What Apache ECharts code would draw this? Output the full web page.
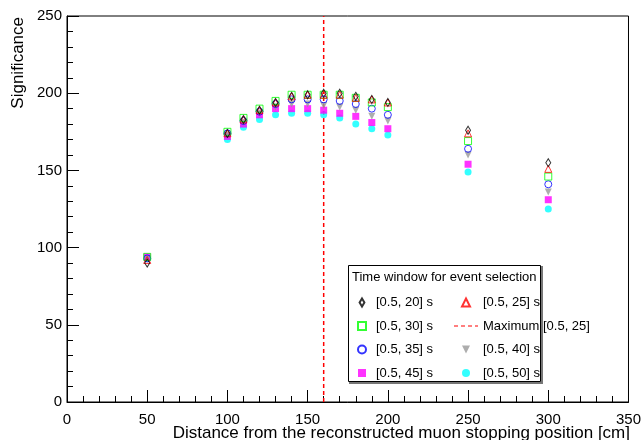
<!DOCTYPE html>
<html>
<head>
<meta charset="utf-8">
<script src="https://cdn.jsdelivr.net/npm/echarts@6/dist/echarts.min.js"></script>
<style>
  html, body { margin: 0; padding: 0; background: #fff; }
  #chart { width: 644px; height: 440px; }
</style>
</head>
<body>
<div id="chart"></div>
<script>
// Distance from the reconstructed muon stopping position [cm]
const distances = [50, 100, 110, 120, 130, 140, 150, 160, 170, 180, 190, 200, 250, 300];

// Significance for each time window
const sig20 = [90, 174, 183, 189, 194, 198, 199, 200, 200, 198, 196, 194, 176, 155];
const sig25 = [92, 174, 183, 189, 194, 198, 199, 199, 199, 197, 196, 194, 174, 151];
const sig30 = [94, 175, 184, 190, 195, 199, 199, 199, 199, 197, 194, 191, 169, 146];
const sig35 = [93, 174, 182, 188, 193, 196, 196, 196, 195, 193, 190, 186, 164, 141];
const sig40 = [93, 173, 181, 187, 191, 193, 193, 192, 191, 189, 185, 182, 160, 136];
const sig45 = [94, 172, 180, 186, 190, 190, 190, 189, 187, 185, 181, 177, 154, 131];
const sig50 = [93, 170, 178, 183, 186, 187, 187, 186, 184, 180, 177, 173, 149, 125];

// Position of the maximum for the [0.5, 25] s window
const maxDistance = 160;

const xTicks = { min: 0, max: 350, step: 50 };
const yTicks = { min: 0, max: 250, step: 50 };

const legendTitle = 'Time window for event selection';
const xTitle = 'Distance from the reconstructed muon stopping position [cm]';
const yTitle = 'Significance';

const FONT = '"Liberation Sans", Arial, Helvetica, sans-serif';

// Legend icons as paths so that they keep their aspect ratio
const ICON = {
  diamond: 'path://M3,0L6,5L3,10L0,5Z',
  rect: 'path://M0,0H10V10H0Z',
  circle: 'path://M0,5A5,5 0 1,0 10,5A5,5 0 1,0 0,5Z',
  triangle: 'path://M5,0L10,10L0,10Z',
  triangleDown: 'path://M0,0L10,0L5,10Z',
  dashes: 'path://M0,0H4V1H0ZM7,0H11V1H7ZM14,0H18V1H14ZM21,0H24V1H21Z'
};

function pts(vals) { return distances.map((d, i) => [d, vals[i]]); }

function openSeries(name, vals, symbol, color, size, rotate) {
  return {
    type: 'scatter', name, data: pts(vals), symbol, symbolSize: size,
    symbolRotate: rotate || 0,
    itemStyle: { color: 'rgba(255,255,255,0)', borderColor: color, borderWidth: 1 },
    emphasis: { disabled: true }, z: 3
  };
}
function filledSeries(name, vals, symbol, color, size, rotate) {
  return {
    type: 'scatter', name, data: pts(vals), symbol, symbolSize: size,
    symbolRotate: rotate || 0,
    itemStyle: { color: color, borderWidth: 0 },
    emphasis: { disabled: true }, z: 2
  };
}

const series = [
  filledSeries('[0.5, 50] s', sig50, 'circle', '#00ffff', 7),
  filledSeries('[0.5, 45] s', sig45, 'rect', '#ff00ff', 7),
  filledSeries('[0.5, 40] s', sig40, 'triangle', '#999999', 7, 180),
  openSeries('[0.5, 35] s', sig35, 'circle', '#0000ff', 7),
  openSeries('[0.5, 30] s', sig30, 'rect', '#00ff00', 7),
  openSeries('[0.5, 25] s', sig25, 'triangle', '#ff0000', 7),
  openSeries('[0.5, 20] s', sig20, 'diamond', '#000000', [5, 8]),
  {
    type: 'line', name: 'Maximum [0.5, 25]',
    data: [[maxDistance, yTicks.min], [maxDistance, yTicks.max]],
    symbol: 'none', color: '#ff0000',
    lineStyle: { color: '#ff0000', width: 1.5, type: [4, 3] },
    emphasis: { disabled: true }, z: 1, silent: true
  }
];

const legendCommon = {
  orient: 'vertical', itemHeight: 8, itemGap: 10.5,
  symbolRotate: 0, symbolKeepAspect: true,
  textStyle: { fontFamily: FONT, fontSize: 13, color: '#000' },
  selectedMode: false, padding: 0
};

const chart = echarts.init(document.getElementById('chart'), null, { renderer: 'canvas' });
chart.setOption({
  animation: false,
  backgroundColor: '#fff',
  grid: { left: 67, top: 16, width: 565, height: 386, show: true, borderColor: '#000', borderWidth: 1 },
  xAxis: {
    type: 'value', min: xTicks.min, max: xTicks.max, interval: xTicks.step,
    axisLine: { show: true, onZero: false, lineStyle: { color: '#000', width: 1 } },
    axisTick: { show: true, inside: true, length: 12, lineStyle: { color: '#000' } },
    minorTick: { show: true, splitNumber: 5, length: 6, lineStyle: { color: '#000' } },
    axisLabel: { fontFamily: FONT, fontSize: 15, color: '#000', margin: 10 },
    splitLine: { show: false }
  },
  yAxis: {
    type: 'value', min: yTicks.min, max: yTicks.max, interval: yTicks.step,
    axisLine: { show: true, onZero: false, lineStyle: { color: '#000', width: 1 } },
    axisTick: { show: true, inside: true, length: 12, lineStyle: { color: '#000' } },
    minorTick: { show: true, splitNumber: 5, length: 6, lineStyle: { color: '#000' } },
    axisLabel: { fontFamily: FONT, fontSize: 15, color: '#000', margin: 5 },
    splitLine: { show: false }
  },
  legend: [
    Object.assign({}, legendCommon, {
      left: 357, top: 296, itemWidth: 18,
      data: [
        { name: '[0.5, 20] s', icon: ICON.diamond },
        { name: '[0.5, 30] s', icon: ICON.rect },
        { name: '[0.5, 35] s', icon: ICON.circle },
        { name: '[0.5, 45] s', icon: ICON.rect }
      ]
    }),
    Object.assign({}, legendCommon, {
      left: 454, top: 296, itemWidth: 24,
      data: [
        { name: '[0.5, 25] s', icon: ICON.triangle },
        { name: 'Maximum [0.5, 25]', icon: ICON.dashes },
        { name: '[0.5, 40] s', icon: ICON.triangleDown },
        { name: '[0.5, 50] s', icon: ICON.circle }
      ]
    })
  ],
  graphic: [
    { type: 'rect', shape: { x: 350, y: 267, width: 192, height: 116 },
      style: { fill: 'none', stroke: '#777', lineWidth: 2 }, z: 0 },
    { type: 'rect', shape: { x: 348.5, y: 265.5, width: 192, height: 116 },
      style: { fill: '#fff', stroke: '#000', lineWidth: 1 }, z: 0 },
    { type: 'text', x: 352, y: 277,
      style: { text: legendTitle, font: '13px ' + FONT, fill: '#000', verticalAlign: 'middle', align: 'left' }, z: 10 },
    { type: 'text', x: 630, y: 433,
      style: { text: xTitle, font: '17px ' + FONT, fill: '#000', verticalAlign: 'middle', align: 'right' }, z: 10 },
    { type: 'text', x: 18, y: 17, rotation: Math.PI / 2,
      style: { text: yTitle, font: '17px ' + FONT, fill: '#000', verticalAlign: 'middle', align: 'right' }, z: 10 }
  ],
  series: series
});
</script>
</body>
</html>
